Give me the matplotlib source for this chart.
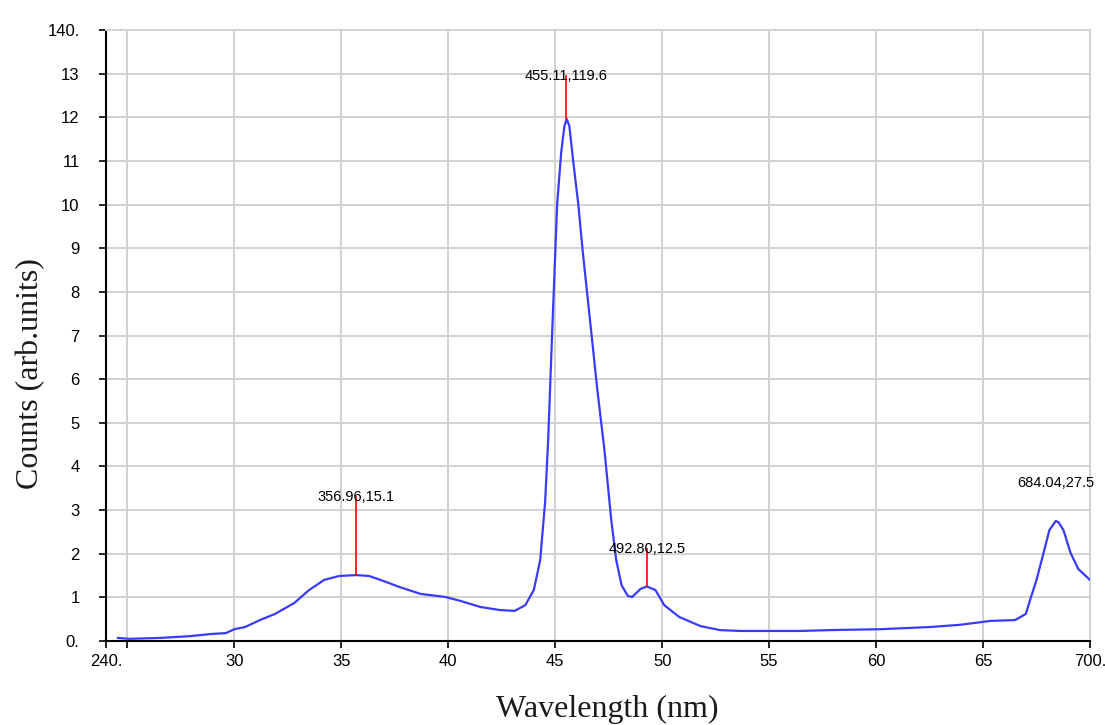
import matplotlib
matplotlib.use("Agg")
import matplotlib.pyplot as plt

# spectrum
wavelength = [245.6, 251, 265, 279, 289, 296, 300, 305, 312, 319, 328, 335, 342, 349, 357,
              363, 370, 377, 387, 398.5, 405.6, 415, 424, 431, 436, 440, 443, 445.3, 446.7,
              448.6, 450.9, 452.8, 454.3, 455.4, 456.6, 458.4, 460.8, 462.8, 466.8, 469.7,
              473, 476.2, 478.5, 481, 484, 486, 489.8, 492.8, 496.8, 501, 508, 518, 527,
              536.5, 564.6, 578.6, 602, 625, 639, 653.5, 665, 670, 672, 675, 678.3, 681,
              684, 685.3, 687.6, 690.9, 694.5, 700]
counts = [0.7, 0.5, 0.7, 1.1, 1.6, 1.8, 2.7, 3.2, 4.8, 6.2, 8.7, 11.7, 14.0, 14.9, 15.1,
          14.9, 13.7, 12.4, 10.8, 10.1, 9.2, 7.8, 7.1, 6.9, 8.2, 11.7, 18.6, 32, 46,
          71, 100, 112, 118, 119.6, 118, 110, 100, 89.6, 71, 57.5,
          43.8, 27.7, 18.6, 12.8, 10.3, 10.1, 11.9, 12.5, 11.7, 8.2, 5.5, 3.4, 2.5,
          2.3, 2.3, 2.5, 2.7, 3.2, 3.7, 4.6, 4.8, 6.2, 9.4, 14.0, 20.2, 25.4,
          27.5, 27.2, 25.4, 20.2, 16.5, 14.0]

# labelled peaks
peak_x = [356.96, 455.11, 492.80, 684.04]
peak_y = [15.1, 119.6, 12.5, 27.5]
peak_text = ["356.96,15.1", "455.11,119.6", "492.80,12.5", "684.04,27.5"]
label_y = [33.0, 129.5, 21.0, 36.2]
draw_marker = [True, True, True, False]

# axis ticks (as shown, truncated labels)
xticks = [240, 250, 300, 350, 400, 450, 500, 550, 600, 650, 700]
xticklabels = ["240.", "", "30", "35", "40", "45", "50", "55", "60", "65", "700."]
yticks = list(range(0, 141, 10))
yticklabels = ["0.", "1", "2", "3", "4", "5", "6", "7", "8", "9", "10", "11", "12", "13", "140."]

fig = plt.figure(figsize=(11.05, 7.25), dpi=100)
ax = fig.add_axes([106/1105, 1-641/725, (1090-106)/1105, (641-30)/725])

grid_c = "#d2d2d2"
ax.set_xlim(240, 700)
ax.set_ylim(0, 140)
ax.set_xticks(xticks)
ax.set_xticklabels(xticklabels, fontsize=12, family="Liberation Sans")
ax.set_yticks(yticks)
ax.set_yticklabels(yticklabels, fontsize=12, family="Liberation Sans")
ax.grid(True, color=grid_c, linewidth=1.4, zorder=0)
ax.set_axisbelow(True)
ax.tick_params(axis="both", direction="out", length=5, width=1.2, color="black")
ax.tick_params(axis="y", pad=14)
ax.tick_params(axis="x", pad=4)
for s in ("left", "bottom"):
    ax.spines[s].set_color("black")
    ax.spines[s].set_linewidth(1.5)
for s in ("top", "right"):
    ax.spines[s].set_color(grid_c)
    ax.spines[s].set_linewidth(1.4)

ax.plot(wavelength, counts, color="#3a3aff", linewidth=1.6, zorder=3)

for px, py, t, ly, m in zip(peak_x, peak_y, peak_text, label_y, draw_marker):
    if m:
        ax.plot([px, px], [py, ly], color="red", linewidth=1.2, zorder=4)
    ax.text(px, ly, t, ha="center", va="center", fontsize=10.5,
            family="Liberation Sans", color="black", zorder=5, clip_on=False)

ax.set_xlabel("Wavelength (nm)", fontsize=23, family="Liberation Serif", color="#1a1a1a")
ax.set_ylabel("Counts (arb.units)", fontsize=23, family="Liberation Serif", color="#1a1a1a")
ax.xaxis.set_label_coords(0.509, -0.088)
ax.yaxis.set_label_coords(-0.062, 0.437)

fig.savefig("out.png", dpi=100)
